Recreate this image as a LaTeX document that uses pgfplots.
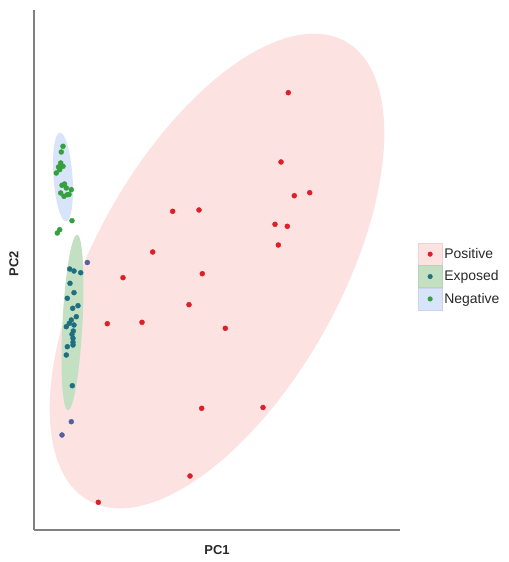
\documentclass[border=0pt]{standalone}
\usepackage{fontspec}
\setmainfont{Liberation Sans}
\usepackage{pgfplots}
\pgfplotsset{compat=1.18}
\definecolor{ptred}{RGB}{222,30,40}
\definecolor{ptteal}{RGB}{30,112,128}
\definecolor{ptgreen}{RGB}{52,160,62}
\definecolor{ptpurple}{RGB}{82,98,160}
\definecolor{ellred}{RGB}{253,226,226}
\definecolor{ellgreen}{RGB}{196,224,194}
\definecolor{ellblue}{RGB}{216,228,250}
\definecolor{axgray}{RGB}{128,128,128}
\definecolor{txt}{RGB}{40,40,40}
\begin{document}
\begin{tikzpicture}
\begin{axis}[
  scale only axis, width=366bp, height=520bp,
  xmin=34, xmax=400, ymin=-530, ymax=-10,
  axis x line*=bottom, axis y line*=left,
  axis line style={draw=axgray, line width=1.3bp, -},
  xtick=\empty, ytick=\empty,
  clip=false,
  legend cell align=left,
  legend style={draw=none, fill=none, at={(1.049,0.552)}, anchor=north west,
    inner sep=0pt, outer sep=0pt, row sep=0pt, text=txt,
    font=\fontsize{14}{16}\selectfont,
    /tikz/every even column/.append style={column sep=4bp}},
]
\path (axis cs:0,0) rectangle (axis cs:508,-562);
\fill[ellred] (axis cs:217,-271) circle [x radius=263bp, y radius=123bp, rotate=60.8];
\fill[ellgreen] (axis cs:72.5,-322.5) circle [x radius=88bp, y radius=10bp, rotate=87];
\fill[ellblue] (axis cs:63,-177) circle [x radius=44.5bp, y radius=9.5bp, rotate=94];

\addplot[only marks, mark=*, mark size=2.5bp, mark options={draw=ptred, fill=ptred},
  legend image code/.code={\fill[ellred, draw=ellred!85!gray] (0bp,-11bp) rectangle (24bp,11bp); \fill[ptred] (12bp,0bp) circle (2.3bp);}]
table[y expr=-\thisrow{y}] {
x y
288.3 92.7
281 162
294.3 195.7
309.7 192.7
172.7 211.3
199 210
275 224.3
287.3 226.3
278.3 245
152.7 252
123 277.7
202.3 273.7
189 304.7
107.3 323.7
142 322.3
225.3 328.3
201.7 408.3
263 407.5
190 476
98.3 502.3
};
\addlegendentry{Positive}

\addplot[only marks, mark=*, mark size=2.5bp, mark options={draw=ptteal, fill=ptteal},
  legend image code/.code={\fill[ellgreen, draw=ellgreen!85!gray] (0bp,-11bp) rectangle (24bp,11bp); \fill[ptteal] (12bp,0bp) circle (2.3bp);}]
table[y expr=-\thisrow{y}] {
x y
69.7 269
74 271
80.7 272.7
70 283.3
74 292.7
67.3 298.3
78 305.7
72.7 308.3
76.3 316.7
71.3 320
69.3 323.3
74 325
66.3 326.7
73.3 331
72 334.3
73 338.3
73 342.3
67.3 346.7
73 345
66.3 355
72.3 385.7
};
\addlegendentry{Exposed}

\addplot[only marks, mark=*, mark size=2.5bp, mark options={draw=ptgreen, fill=ptgreen},
  legend image code/.code={\fill[ellblue, draw=ellblue!85!gray] (0bp,-11bp) rectangle (24bp,11bp); \fill[ptgreen] (12bp,0bp) circle (2.3bp);}]
table[y expr=-\thisrow{y}] {
x y
63 146.3
61.3 152
60.7 163
63 166.3
59.7 169.7
56.3 173
58.5 167
62 185.3
64.5 184
66.3 188
71.3 189.7
60.7 193
64 196.3
67.3 194.7
69 194.5
72 220.7
59.7 229.7
57.3 233
};
\addlegendentry{Negative}

\addplot[only marks, mark=*, mark size=2.5bp, mark options={draw=ptpurple, fill=ptpurple}, forget plot]
table[y expr=-\thisrow{y}] {
x y
87.3 262.5
71.3 421.7
62 435
};

\node[text=txt, font=\bfseries\fontsize{13}{15}\selectfont] at (axis cs:217,-550) {PC1};
\node[text=txt, rotate=90, font=\bfseries\fontsize{13}{15}\selectfont] at (axis cs:14,-264) {PC2};
\end{axis}
\end{tikzpicture}
\end{document}
